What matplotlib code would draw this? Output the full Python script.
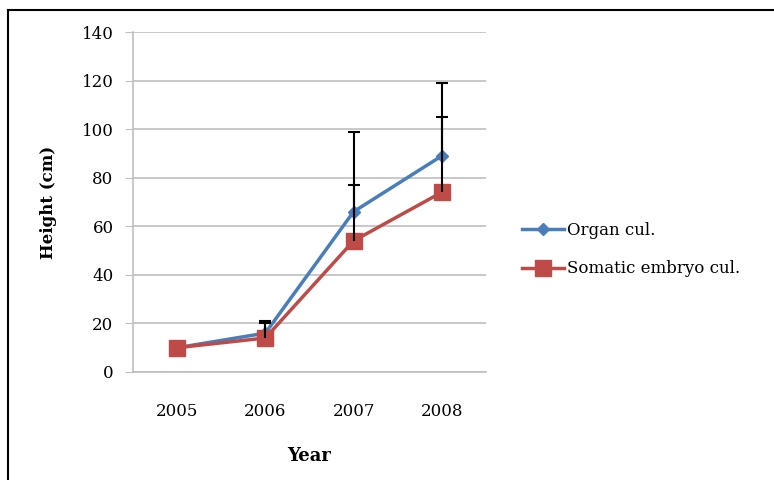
import matplotlib.pyplot as plt
from matplotlib.lines import Line2D
import numpy as np

years = ['2005', '2006', '2007', '2008']
organ = [10, 16, 66, 89]
organ_err = [0, 5, 33, 30]
somatic = [10, 14, 54, 74]
somatic_err = [0, 6, 23, 31]

plt.rcParams['font.family'] = ['DejaVu Serif']

fig = plt.figure(figsize=(7.74, 4.8), dpi=100)
ax = fig.add_axes([0.1718, 0.225, 0.456, 0.7083])

x = np.arange(len(years))
blue = '#4a7ebb'
red = '#be4b48'

ax.plot(x, organ, color=blue, lw=2.5, marker='D', ms=6, label='Organ cul.', zorder=3)
ax.plot(x, somatic, color=red, lw=2.5, marker='s', ms=11, label='Somatic embryo cul.', zorder=4)

# upper-only error bars, no bar where error is zero
for vals, errs in [(organ, organ_err), (somatic, somatic_err)]:
    v = np.array(vals, dtype=float)
    e = np.array(errs, dtype=float)
    m = e > 0
    ax.vlines(x[m], v[m], v[m] + e[m], color='black', lw=1.5, zorder=5)
    ax.plot(x[m], v[m] + e[m], ls='none', marker='_', ms=9, mew=1.5, color='black', zorder=5)

ax.set_xlim(-0.5, 3.5)
ax.set_ylim(0, 140)
ax.set_yticks(range(0, 141, 20))
ax.set_xticks(x)
ax.set_xticklabels(years)
ax.yaxis.grid(True, color='#bfbfbf', lw=1.2)
ax.set_axisbelow(True)
for s in ['top', 'right']:
    ax.spines[s].set_visible(False)
for s in ['left', 'bottom']:
    ax.spines[s].set_color('#bfbfbf')
    ax.spines[s].set_linewidth(1.2)
ax.tick_params(axis='y', length=6, color='#bfbfbf', labelsize=12, pad=8)
ax.tick_params(axis='x', length=0, labelsize=12, pad=22)

ax.set_xlabel('Year', fontsize=13, fontweight='bold', labelpad=20)
ax.set_ylabel('Height (cm)', fontsize=12, fontweight='bold', labelpad=18)

fig.legend(loc='center left', bbox_to_anchor=(0.655, 0.48), frameon=False,
           fontsize=12, handlelength=2.5, handletextpad=0.2, labelspacing=1.3)

# outer border (top and left)
fig.add_artist(Line2D([0.0103, 1.0], [0.979, 0.979], color='black', lw=1.5, transform=fig.transFigure))
fig.add_artist(Line2D([0.0103, 0.0103], [0.0, 0.979], color='black', lw=1.5, transform=fig.transFigure))

fig.savefig('out.png', dpi=100)
